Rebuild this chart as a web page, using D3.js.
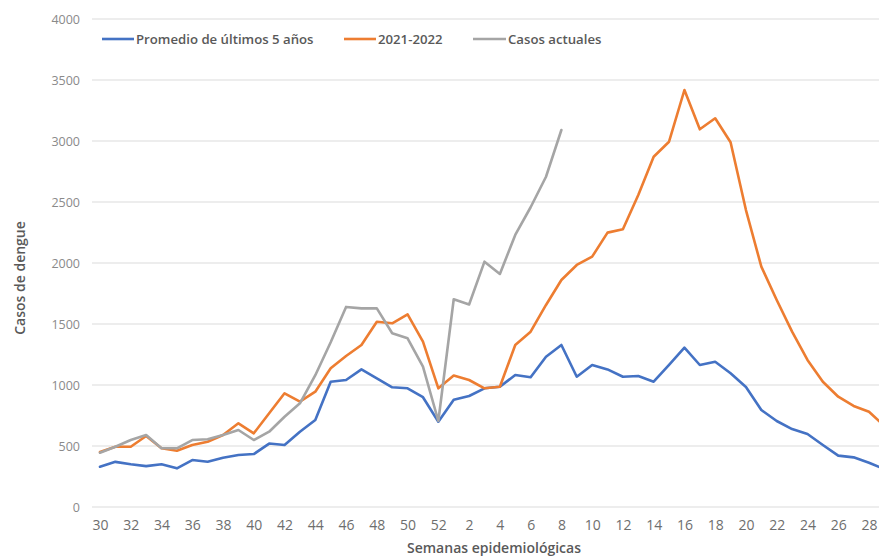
<!DOCTYPE html>
<html>
<head>
<meta charset="utf-8">
<script src="https://cdn.jsdelivr.net/npm/d3@7"></script>
<style>
  html, body { margin: 0; padding: 0; background: #fff; }
  svg { display: block; }
</style>
</head>
<body>
<svg id="chart" width="879" height="556"></svg>
<script>
const weeks = [30,31,32,33,34,35,36,37,38,39,40,41,42,43,44,45,46,47,48,49,50,51,52,
  1,2,3,4,5,6,7,8,9,10,11,12,13,14,15,16,17,18,19,20,21,22,23,24,25,26,27,28,29];
const weekLabels = [30,32,34,36,38,40,42,44,46,48,50,52,2,4,6,8,10,12,14,16,18,20,22,24,26,28];
const yTicks = [0,500,1000,1500,2000,2500,3000,3500,4000];

const promedio = [330,370,350,335,350,317,385,371,404,426,434,520,508,617,713,1027,1041,1128,1055,981,973,900,699,
  880,910,973,986,1082,1063,1232,1328,1068,1164,1128,1068,1074,1027,1164,1306,1164,1191,1096,984,795,705,639,598,508,421,407,363,310];
const temporada2122 = [450,494,494,582,481,461,508,535,590,686,604,768,932,863,945,1137,1238,1328,1519,1506,1579,1355,973,
  1078,1041,973,986,1328,1437,1656,1861,1984,2052,2249,2276,2557,2871,2994,3418,3096,3186,2990,2434,1970,1697,1437,1205,1027,904,828,781,665];
const actuales = [445,494,549,590,481,481,549,555,590,631,549,617,740,850,1080,1350,1640,1628,1628,1424,1383,1150,705,
  1703,1660,2011,1910,2230,2457,2707,3090];

const seriesNames = ["Promedio de últimos 5 años", "2021-2022", "Casos actuales"];
const seriesColors = ["#4472C4", "#ED7D31", "#A5A5A5"];
const seriesData = [promedio, temporada2122, actuales];

const svg = d3.select("#chart");
const cats = weeks.map((w, i) => i);
const x = d3.scaleBand().domain(cats).range([92.3, 92.3 + 52 * 15.38]);
const y = d3.scaleLinear().domain([0, 4000]).range([507, 19]);
const cx = i => x(i) + x.bandwidth() / 2;

// gridlines
svg.append("g").selectAll("line").data(yTicks).join("line")
  .attr("x1", 92).attr("x2", 879)
  .attr("y1", d => y(d)).attr("y2", d => y(d))
  .attr("stroke", "#dcdcdc").attr("stroke-width", 1.2);

// y axis labels
const yAxis = d3.axisLeft(y).tickValues(yTicks).tickSize(0).tickPadding(0).tickFormat(d3.format("d"));
const gy = svg.append("g").attr("transform", "translate(80,0)").call(yAxis);
gy.select(".domain").remove();
gy.selectAll("text").attr("font-family", "'Open Sans', sans-serif").attr("font-size", 12.5)
  .attr("fill", "#8a8a8a").attr("dy", "0.35em");

// x axis labels
const labelIdx = weekLabels.map(w => weeks.indexOf(w, w >= 30 ? 0 : 23));
const xPoint = d3.scalePoint().domain(cats).range([cx(0), cx(51)]);
const xAxis = d3.axisBottom(xPoint).tickValues(labelIdx).tickSize(0).tickPadding(0)
  .tickFormat(i => weeks[i]);
const gx = svg.append("g").attr("transform", "translate(0,520)").call(xAxis);
gx.select(".domain").remove();
gx.selectAll("text").attr("font-family", "'Open Sans', sans-serif").attr("font-size", 14)
  .attr("fill", "#6e6e6e").attr("dy", "0.71em");

// lines
const line = d3.line()
  .defined(d => d != null)
  .x((d, i) => cx(i))
  .y(d => y(d));
seriesData.forEach((data, k) => {
  svg.append("path").datum(data)
    .attr("fill", "none")
    .attr("stroke", seriesColors[k])
    .attr("stroke-width", 2.6)
    .attr("stroke-linejoin", "round")
    .attr("stroke-linecap", "round")
    .attr("d", line);
});

// legend
const legendPos = [[102, 134], [344, 376], [473, 506]];
seriesNames.forEach((name, k) => {
  const [x1, x2] = legendPos[k];
  svg.append("line").attr("x1", x1).attr("x2", x2).attr("y1", 39).attr("y2", 39)
    .attr("stroke", seriesColors[k]).attr("stroke-width", 2.6);
  svg.append("text").attr("x", x2 + 2).attr("y", 39).attr("dy", "0.35em")
    .attr("font-family", "'Open Sans', sans-serif").attr("font-size", 13.2).attr("font-weight", 600)
    .attr("fill", "#595959").text(name);
});

// axis titles
svg.append("text").attr("x", 494).attr("y", 548).attr("dy", "0.35em")
  .attr("text-anchor", "middle")
  .attr("font-family", "'Open Sans', sans-serif").attr("font-size", 14).attr("font-weight", 600)
  .attr("fill", "#595959").text("Semanas epidemiológicas");
svg.append("text").attr("transform", "translate(20,278) rotate(-90)").attr("dy", "0.35em")
  .attr("text-anchor", "middle")
  .attr("font-family", "'Open Sans', sans-serif").attr("font-size", 14).attr("font-weight", 600)
  .attr("fill", "#595959").text("Casos de dengue");
</script>
</body>
</html>
